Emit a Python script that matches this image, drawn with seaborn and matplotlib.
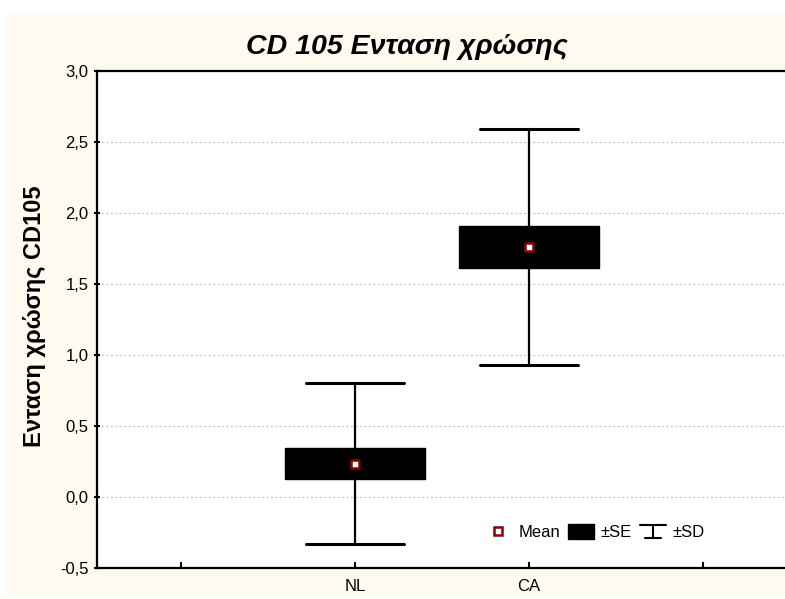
import numpy as np
import matplotlib
matplotlib.use("Agg")
import matplotlib.pyplot as plt
import seaborn as sns
from matplotlib.patches import Rectangle
from matplotlib.lines import Line2D
from matplotlib.legend_handler import HandlerBase
from matplotlib.ticker import FuncFormatter, MultipleLocator

# values
groups = ["NL", "CA"]
means = [0.235, 1.76]
se = [0.107, 0.147]
sd = [0.568, 0.83]
tick_labels = ["", "NL", "CA", ""]

sns.set_style("white")
plt.rcParams['font.family'] = ['Liberation Sans', 'DejaVu Sans']
plt.rcParams['text.color'] = 'black'
plt.rcParams['axes.labelcolor'] = 'black'
plt.rcParams['xtick.color'] = 'black'
plt.rcParams['ytick.color'] = 'black'

fig = plt.figure(figsize=(7.85, 5.99), dpi=100, facecolor="white")
# cream panel behind the chart
fig.patches.append(Rectangle((7/785, 1-596/599), 1, (596-13)/599, transform=fig.transFigure,
                             facecolor="#FFFAF0", edgecolor="none", zorder=-10))

ax = fig.add_axes([97/785, 31/599, 693/785, 497/599])
ax.set_facecolor("white")

xpos = np.arange(1, len(groups) + 1)
stats = []
for g, m, s, d in zip(groups, means, se, sd):
    stats.append(dict(label=g, med=m, q1=m - s, q3=m + s, whislo=m - d, whishi=m + d, fliers=[]))

ax.bxp(stats, positions=xpos, widths=0.81, capwidths=0.565, patch_artist=True,
       showfliers=False, manage_ticks=False,
       boxprops=dict(facecolor="black", edgecolor="black", linewidth=1),
       whiskerprops=dict(color="black", linewidth=1.6),
       capprops=dict(color="black", linewidth=2.2),
       medianprops=dict(linewidth=0))

sns.scatterplot(x=xpos, y=means, marker="s", s=36, facecolor="white",
                edgecolor="#8B0000", linewidth=1.8, zorder=5, ax=ax)

ax.set_xlim(-0.483, 3.5)
ax.set_ylim(-0.5, 3.0)
ax.set_xticks(range(len(tick_labels)))
ax.set_xticklabels(tick_labels)
ax.yaxis.set_major_locator(MultipleLocator(0.5))
ax.yaxis.set_major_formatter(FuncFormatter(lambda v, p: f"{v:.1f}".replace(".", ",")))
ax.yaxis.grid(True, linestyle=(0, (2, 2)), color="#C4C4C4", linewidth=0.8)
ax.set_axisbelow(True)
ax.tick_params(axis="x", direction="in", length=4, width=1.5, labelsize=12, pad=8)
ax.tick_params(axis="y", direction="inout", length=4, width=1.5, labelsize=12, pad=4)
ax.tick_params(left=True, bottom=True)
for sp in ax.spines.values():
    sp.set_linewidth(1.6)
    sp.set_color("black")

fig.text(407/785, 1-47/599, "CD 105 Ενταση χρώσης", ha="center", va="center",
         fontsize=20.5, fontweight="bold", fontstyle="italic")
ax.set_ylabel("Ενταση χρώσης CD105", fontsize=17, fontweight="bold")
ax.yaxis.set_label_coords(46/785, 1-316/599, transform=fig.transFigure)


class SDHandler(HandlerBase):
    def create_artists(self, legend, orig, xd, yd, w, h, fontsize, trans):
        x0, y0 = -xd, -yd
        cx = x0 + w / 2
        top = y0 + h * 0.95
        bot = y0 + h * 0.08
        arts = [Line2D([x0, x0 + w], [top, top]),
                Line2D([cx, cx], [bot, top]),
                Line2D([x0 + w * 0.2, x0 + w * 0.8], [bot, bot])]
        for a in arts:
            a.set_color("black")
            a.set_linewidth(1.5)
            a.set_transform(trans)
        return arts


mean_h = Line2D([], [], marker="s", linestyle="none", markersize=6,
                markerfacecolor="white", markeredgecolor="#8B0000", markeredgewidth=1.8)
se_h = Rectangle((0, 0), 1, 1, facecolor="black", edgecolor="black")
sd_h = Line2D([], [])
leg = ax.legend([mean_h, se_h, sd_h], ["Mean", "±SE", "±SD"], ncol=3, frameon=False,
                loc="center", bbox_to_anchor=(595/785, 1-532/599), bbox_transform=fig.transFigure,
                fontsize=12, handlelength=1.6, handleheight=1.05, handletextpad=0.4,
                columnspacing=0.45, handler_map={sd_h: SDHandler()})

fig.savefig("out.png", dpi=100, facecolor="white")
